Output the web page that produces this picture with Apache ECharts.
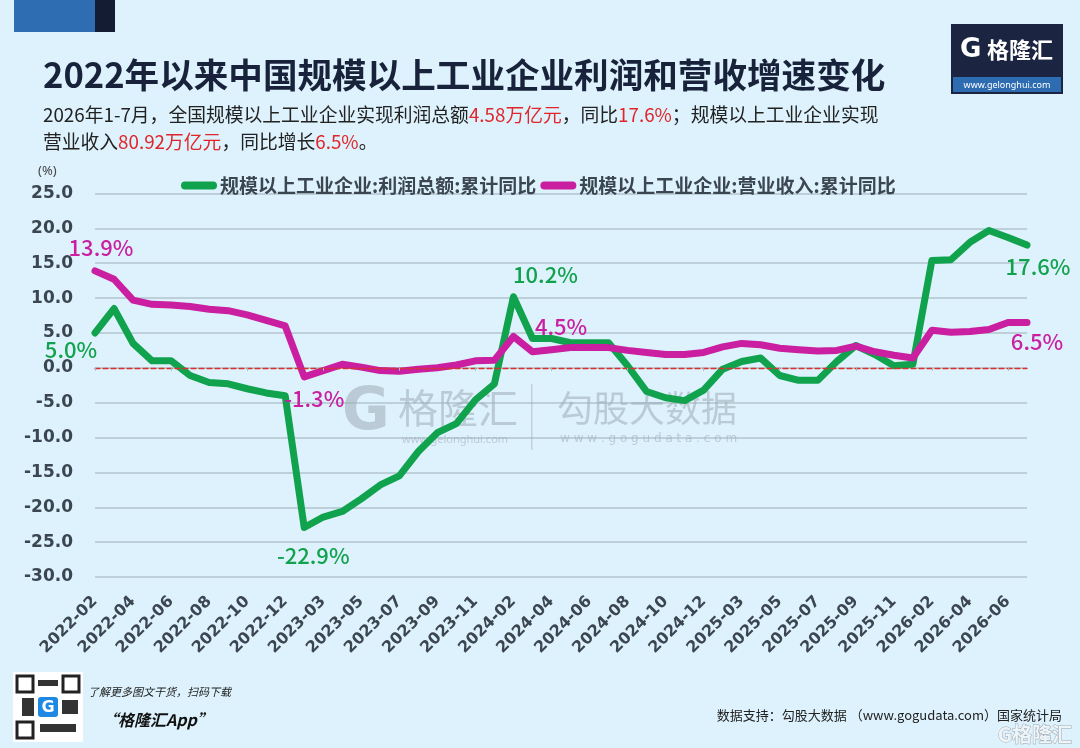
<!DOCTYPE html>
<html lang="zh-CN">
<head>
<meta charset="UTF-8">
<title>2022年以来中国规模以上工业企业利润和营收增速变化</title>
<script src="https://cdn.jsdelivr.net/npm/echarts@6/dist/echarts.min.js"></script>
<style>
    html, body {margin: 0; padding: 0; background: #ddf2fc;}
    #chart {width: 1080px; height: 748px;}
</style>
</head>
<body>
<div id="chart"></div>
<script type="text/javascript">
    // 月份（1-2月合并发布，故无1月）
    var months = [
        '2022-02', '2022-03', '2022-04', '2022-05', '2022-06', '2022-07', '2022-08', '2022-09', '2022-10', '2022-11', '2022-12',
        '2023-02', '2023-03', '2023-04', '2023-05', '2023-06', '2023-07', '2023-08', '2023-09', '2023-10', '2023-11', '2023-12',
        '2024-02', '2024-03', '2024-04', '2024-05', '2024-06', '2024-07', '2024-08', '2024-09', '2024-10', '2024-11', '2024-12',
        '2025-02', '2025-03', '2025-04', '2025-05', '2025-06', '2025-07', '2025-08', '2025-09', '2025-10', '2025-11', '2025-12',
        '2026-02', '2026-03', '2026-04', '2026-05', '2026-06', '2026-07'
    ];
    // 利润总额:累计同比(%)
    var profitYoY = [
        5.0, 8.5, 3.5, 1.0, 1.0, -1.1, -2.1, -2.3, -3.0, -3.6, -4.0,
        -22.9, -21.4, -20.6, -18.8, -16.8, -15.5, -12.0, -9.3, -8.0, -4.6, -2.3,
        10.2, 4.2, 4.2, 3.6, 3.6, 3.6, 0.3, -3.4, -4.3, -4.7, -3.2,
        -0.2, 0.9, 1.4, -1.1, -1.8, -1.8, 0.9, 3.2, 1.9, 0.3, 0.5,
        15.4, 15.5, 18.0, 19.7, 18.7, 17.6
    ];
    // 营业收入:累计同比(%)
    var revenueYoY = [
        13.9, 12.7, 9.7, 9.1, 9.0, 8.8, 8.4, 8.2, 7.6, 6.8, 6.0,
        -1.3, -0.4, 0.5, 0.1, -0.4, -0.5, -0.2, 0.0, 0.4, 1.0, 1.1,
        4.5, 2.3, 2.6, 2.9, 2.9, 2.9, 2.5, 2.2, 1.9, 1.9, 2.2,
        3.0, 3.5, 3.3, 2.8, 2.6, 2.4, 2.5, 3.1, 2.3, 1.8, 1.4,
        5.4, 5.1, 5.2, 5.5, 6.5, 6.5
    ];
    var seriesNames = ['规模以上工业企业:利润总额:累计同比', '规模以上工业企业:营业收入:累计同比'];
    var yMin = -30, yMax = 25, yStep = 5;

    var GREEN = '#11a24d', PINK = '#c91fa0', TEXT = '#3b4650';
    var CJK = 'Noto Sans CJK SC';

    // 标注点
    var profitMarks = {
        0: {position: 'bottom', offset: [-24, 0]},
        11: {position: 'bottom', offset: [9, 12]},
        22: {position: 'top', offset: [32, -6]},
        49: {position: 'bottom', offset: [11, 5]}
    };
    var revenueMarks = {
        0: {position: 'top', offset: [6, -7]},
        11: {position: 'bottom', offset: [10, 5]},
        22: {position: 'right', offset: [16, -10]},
        49: {position: 'bottom', offset: [10, 3]}
    };

    function withLabels(values, marks, color) {
        return values.map(function (v, i) {
            var m = marks[i];
            if (!m) return v;
            return {
                value: v,
                label: {
                    show: true, position: m.position, offset: m.offset,
                    formatter: v.toFixed(1) + '%',
                    color: color, fontSize: 22, fontFamily: CJK, fontWeight: 500
                }
            };
        });
    }

    function lineSeries(name, values, marks, color) {
        return {
            name: name,
            type: 'line',
            data: withLabels(values, marks, color),
            symbol: 'circle',
            symbolSize: 1,
            showSymbol: true,
            showAllSymbol: true,
            itemStyle: {color: color},
            lineStyle: {color: color, width: 7, cap: 'round', join: 'round'},
            emphasis: {disabled: true},
            z: 3
        };
    }

    var wm = '#9eabb6';
    var graphics = [
        // 左上角色块
        {type: 'rect', shape: {x: 14, y: 0, width: 81, height: 32}, style: {fill: '#2f6db3'}},
        {type: 'rect', shape: {x: 95, y: 0, width: 20, height: 32}, style: {fill: '#141c33'}},
        // 右上角logo
        {type: 'rect', shape: {x: 951, y: 24, width: 112, height: 70}, style: {fill: '#1b2541'}},
        {type: 'rect', shape: {x: 953, y: 77, width: 108, height: 15}, style: {fill: '#2e6cb2'}},
        {type: 'text', x: 960, y: 50, style: {text: 'G', fill: '#fff', font: 'bold 26px "DejaVu Sans"', verticalAlign: 'middle'}},
        {type: 'text', x: 987, y: 50, style: {text: '格隆汇', fill: '#fff', font: 'bold 22px "Noto Sans CJK SC"', verticalAlign: 'middle'}},
        {type: 'text', x: 1007, y: 85, style: {text: 'www.gelonghui.com', fill: '#fff', font: '9px "Noto Sans"', align: 'center', verticalAlign: 'middle'}},
        // 单位
        {type: 'text', x: 38, y: 171, style: {text: '(%)', fill: '#444', font: '13px "Noto Sans"', verticalAlign: 'middle'}},
        // 水印
        {type: 'text', x: 342, y: 414, z: 1, style: {text: 'G', fill: wm, opacity: 0.55, font: 'bold 58px "DejaVu Sans"', verticalAlign: 'middle'}},
        {type: 'text', x: 398, y: 408, z: 1, style: {text: '格隆汇', fill: wm, opacity: 0.55, font: '40px "Noto Sans CJK SC"', verticalAlign: 'middle'}},
        {type: 'text', x: 402, y: 440, z: 1, style: {text: 'www.gelonghui.com', fill: wm, opacity: 0.55, font: '11px "Noto Sans"', verticalAlign: 'middle'}},
        {type: 'rect', z: 1, shape: {x: 531, y: 384, width: 1.5, height: 66}, style: {fill: wm, opacity: 0.45}},
        {type: 'text', x: 557, y: 408, z: 1, style: {text: '勾股大数据', fill: wm, opacity: 0.55, font: '36px "Noto Sans CJK SC"', verticalAlign: 'middle'}},
        {type: 'text', x: 560, y: 439, z: 1, style: {text: 'w w w . g o g u d a t a . c o m', fill: wm, opacity: 0.55, font: '12px "DejaVu Sans"', verticalAlign: 'middle'}},
        // 底部二维码
        {type: 'rect', shape: {x: 13, y: 672, width: 70, height: 70}, style: {fill: '#fff'}},
        {type: 'rect', shape: {x: 17, y: 676, width: 16, height: 16}, style: {fill: '#fff', stroke: '#222', lineWidth: 3}},
        {type: 'rect', shape: {x: 63, y: 676, width: 16, height: 16}, style: {fill: '#fff', stroke: '#222', lineWidth: 3}},
        {type: 'rect', shape: {x: 17, y: 722, width: 16, height: 16}, style: {fill: '#fff', stroke: '#222', lineWidth: 3}},
        {type: 'rect', shape: {x: 38, y: 680, width: 20, height: 6}, style: {fill: '#333'}},
        {type: 'rect', shape: {x: 22, y: 698, width: 12, height: 18}, style: {fill: '#333'}},
        {type: 'rect', shape: {x: 62, y: 700, width: 16, height: 14}, style: {fill: '#333'}},
        {type: 'rect', shape: {x: 40, y: 724, width: 36, height: 8}, style: {fill: '#333'}},
        {type: 'rect', shape: {x: 37, y: 696, width: 22, height: 22, r: 4}, style: {fill: '#1e88e5', stroke: '#fff', lineWidth: 2}},
        {type: 'text', x: 48, y: 708, style: {text: 'G', fill: '#fff', font: 'bold 16px "DejaVu Sans"', align: 'center', verticalAlign: 'middle'}},
        {type: 'text', x: 88, y: 692, style: {text: '了解更多图文干货，扫码下载', fill: '#222', font: 'italic 11px "Noto Sans CJK SC"', verticalAlign: 'middle'}},
        {type: 'text', x: 102, y: 720, style: {text: '“格隆汇App”', fill: '#111', font: 'italic bold 16px "Noto Sans CJK SC"', verticalAlign: 'middle'}},
        // 数据来源
        {type: 'text', x: 1062, y: 715, style: {text: '数据支持：勾股大数据 （www.gogudata.com）国家统计局', fill: '#222', font: '13px "Noto Sans CJK SC"', align: 'right', verticalAlign: 'middle'}},
        {type: 'text', x: 1072, y: 734, style: {text: 'G格隆汇', fill: '#eef4f7', stroke: '#9aa7b1', lineWidth: 1, font: 'bold 20px "Noto Sans CJK SC"', align: 'right', verticalAlign: 'middle'}}
    ];

    var myChart = echarts.init(document.getElementById('chart'));
    var option = {
        backgroundColor: '#ddf2fc',
        animation: false,
        title: [{
            text: '2022年以来中国规模以上工业企业利润和营收增速变化',
            left: 38, top: 49,
            textStyle: {fontSize: 34.6, fontWeight: 'bold', color: '#18223a', fontFamily: CJK, lineHeight: 42}
        }, {
            text: '2026年1-7月，全国规模以上工业企业实现利润总额{r|4.58万亿元}，同比{r|17.6%}；规模以上工业企业实现\n' +
                '营业收入{r|80.92万亿元}，同比增长{r|6.5%}。',
            left: 38, top: 96,
            textStyle: {
                fontSize: 18.8, fontWeight: 'normal', color: '#222', fontFamily: CJK, lineHeight: 27,
                rich: {r: {fontSize: 18.8, color: '#e0262a', fontFamily: CJK, lineHeight: 27}}
            }
        }],
        legend: {
            data: seriesNames,
            left: 176, top: 171,
            itemWidth: 36, itemHeight: 8, itemGap: 4,
            icon: 'path://M4,0 L32,0 A4,4 0 0 1 32,8 L4,8 A4,4 0 0 1 4,0 Z',
            textStyle: {fontSize: 19, fontWeight: 'bold', color: TEXT, fontFamily: CJK, padding: [0, 0, 0, -2]}
        },
        grid: {left: 95, right: 53, top: 193.5, bottom: 171, containLabel: false},
        xAxis: [{
            type: 'category',
            data: months,
            boundaryGap: false,
            axisLine: {show: false, onZero: false},
            axisTick: {show: false},
            splitLine: {show: false},
            axisLabel: {
                interval: 1, rotate: 45, margin: 22,
                fontSize: 16, fontWeight: 'bold', color: TEXT, fontFamily: 'DejaVu Sans'
            }
        }, {
            type: 'category',
            data: months,
            boundaryGap: false,
            position: 'bottom',
            z: 4,
            axisLine: {show: true, onZero: true, lineStyle: {color: '#d8332f', width: 1.3, type: [5, 3]}},
            axisTick: {show: true, length: 3, lineStyle: {color: '#a9b7c0', width: 1}},
            axisLabel: {show: false},
            splitLine: {show: false}
        }],
        yAxis: {
            type: 'value',
            min: yMin, max: yMax, interval: yStep,
            axisLine: {show: false},
            axisTick: {show: false},
            axisLabel: {
                margin: 22, fontSize: 17, fontWeight: 'bold', color: TEXT, fontFamily: 'DejaVu Sans',
                formatter: function (v) { return v.toFixed(1); }
            },
            splitLine: {lineStyle: {color: '#bdd0da', width: 2}}
        },
        series: [
            lineSeries(seriesNames[0], profitYoY, profitMarks, GREEN),
            lineSeries(seriesNames[1], revenueYoY, revenueMarks, PINK)
        ],
        graphic: graphics
    };
    myChart.setOption(option);
</script>
</body>
</html>
